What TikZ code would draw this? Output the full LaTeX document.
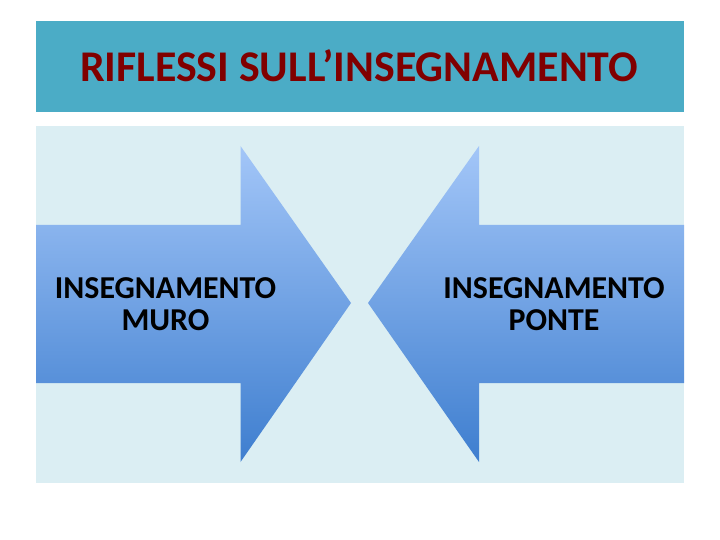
\documentclass[tikz,border=0pt]{standalone}
\usepackage{fontspec}
\setmainfont{Carlito}
\definecolor{titlebar}{HTML}{4BACC6}
\definecolor{titletext}{HTML}{800000}
\definecolor{panel}{HTML}{DBEEF3}
\definecolor{arrowtop}{HTML}{A3C6F8}
\definecolor{arrowbot}{HTML}{3E7ECF}
\tikzset{
  bigarrow/.style={top color=arrowtop, bottom color=arrowbot, draw=none},
  arrowlabel/.style={align=center, font=\fontsize{32}{32.5}\selectfont\bfseries, text=black, inner sep=0pt},
}
\begin{document}
\begin{tikzpicture}[x=1bp,y=-1bp]
\useasboundingbox (0,0) rectangle (720,540);
\fill[white] (0,0) rectangle (720,540);
\fill[titlebar] (36,21) rectangle (684,112);
\node[font=\fontsize{44}{48}\selectfont\bfseries, text=titletext, anchor=base, inner sep=0pt] (title) at (359,81.5) {RIFLESSI SULL’INSEGNAMENTO};
\fill[panel] (36,126) rectangle (684,483);
\shade[bigarrow] (36,225) -- (240.5,225) -- (240.5,146) -- (351,303) -- (240.5,462) -- (240.5,383) -- (36,383) -- cycle;
\shade[bigarrow] (684,225) -- (479,225) -- (479,146) -- (368,303) -- (479,462) -- (479,383) -- (684,383) -- cycle;
\node[arrowlabel] (muro) at (165.5,304) {INSEGNAMENTO\\MURO};
\node[arrowlabel] (ponte) at (554,304) {INSEGNAMENTO\\PONTE};
\end{tikzpicture}
\end{document}
